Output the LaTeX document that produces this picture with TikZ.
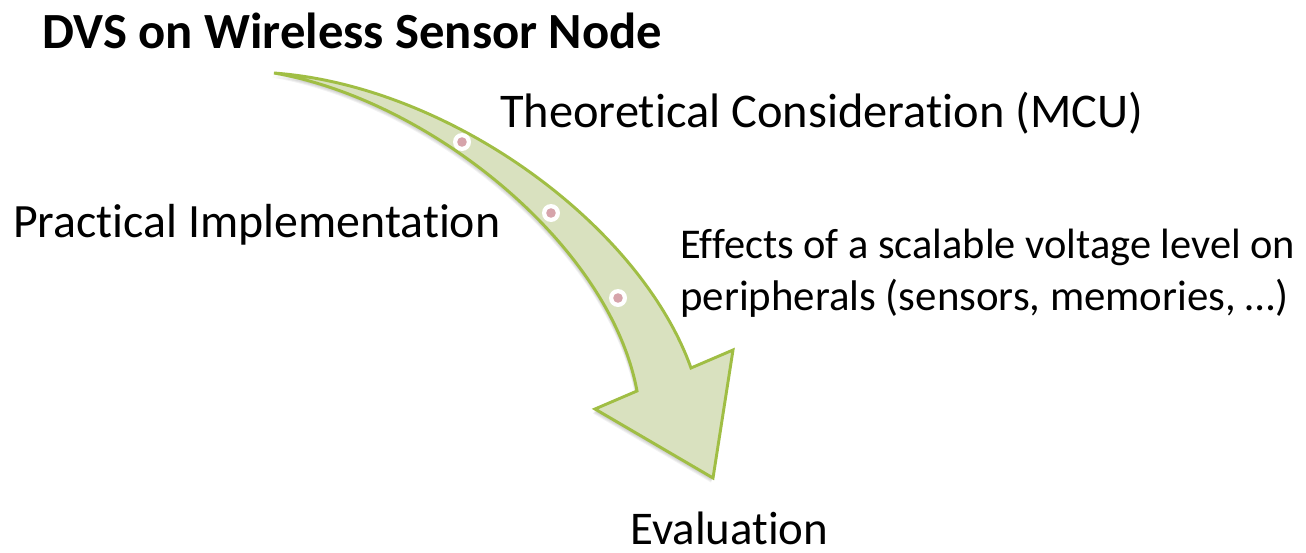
\documentclass[tikz,border=0pt]{standalone}
\usepackage{fontspec}
\setmainfont{Carlito}[Ligatures=NoCommon]
\usepackage{graphicx}

\definecolor{arrowfill}{RGB}{217,225,191}
\definecolor{arrowline}{RGB}{160,190,68}
\definecolor{dotpink}{RGB}{214,164,171}

% text scaled to a given width in px (1px = 0.75pt)
\newcommand{\fitpx}[2]{\resizebox{#1\dimexpr0.75pt\relax}{!}{#2}}

% outline of the curved arrow
\newcommand{\curvedarrowpath}{%
  (274,73) .. controls (450,86) and (640,225) .. (691,368)
  -- (733,350) -- (713,478) -- (595,409) -- (637,391)
  .. controls (610,245) and (430,100) .. (274,73)
  -- cycle}

\tikzset{
  label/.style={inner sep=0pt, anchor=base west, text=black},
  stepdot/.style={circle, fill=white, minimum size=18*0.75pt, inner sep=0pt,
                  path picture={\fill[dotpink] (path picture bounding box.center) circle (3.6pt);}},
}

\begin{document}
\begin{tikzpicture}[x=0.75pt, y=-0.75pt]
  \useasboundingbox (0,0) rectangle (1306,553);
  \fill[white] (0,0) rectangle (1306,553);

  % soft shadow
  \foreach \s in {1,2,3,4,5} {
    \fill[black, opacity=0.05, shift={(-0.4*\s,0.9*\s)}] \curvedarrowpath;
  }
  % arrow body
  \filldraw[fill=arrowfill, draw=arrowline, line width=2.2pt, line join=miter] \curvedarrowpath;

  % milestones on the arrow
  \node[stepdot] (d1) at (462,142) {};
  \node[stepdot] (d2) at (551,213) {};
  \node[stepdot] (d3) at (618,298) {};

  % labels
  \node[label] (title) at (42,48) {\fitpx{620}{\bfseries DVS on Wireless Sensor Node}};
  \node[label] (theo)  at (500,127) {\fitpx{643}{Theoretical Consideration (MCU)}};
  \node[label] (prac)  at (13,237) {\fitpx{487}{Practical Implementation}};
  \node[label] (eff1)  at (680,258) {\fitpx{615}{Effects of a scalable voltage level on}};
  \node[label] (eff2)  at (680,310) {\fitpx{608}{peripherals (sensors, memories, \dots)}};
  \node[label] (eval)  at (630,544) {\fitpx{198}{Evaluation}};
\end{tikzpicture}
\end{document}
